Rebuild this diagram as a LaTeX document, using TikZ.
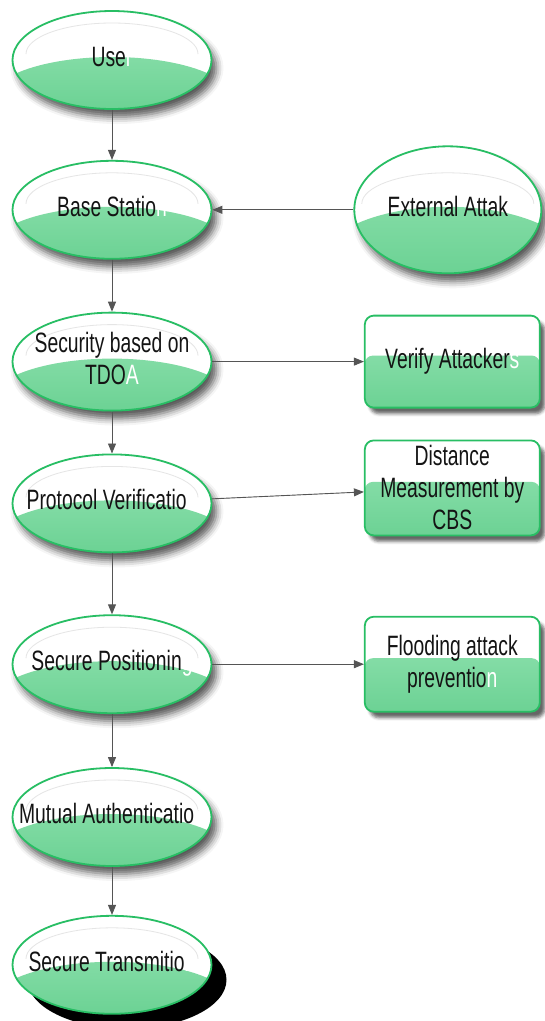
\documentclass[tikz,border=0pt]{standalone}
\usepackage{fontspec}
\usepackage{xcolor}
\usepackage{tikz}
\usetikzlibrary{shapes.geometric, arrows.meta, positioning, shadows, shadows.blur}

\newfontfamily\flowfont{Liberation Sans}[FakeStretch=0.69]

\definecolor{edgegreen}{RGB}{40,190,100}
\definecolor{lowgreen}{RGB}{108,210,148}
\definecolor{lowgreenlight}{RGB}{150,228,180}
\definecolor{inkgray}{RGB}{85,85,85}
\definecolor{textblack}{RGB}{20,20,20}

% last letters of some labels are printed white
\newcommand\hid[1]{\textcolor{white}{#1}}
% zero-width label so the ellipse keeps its own size
\newcommand\centred[1]{\makebox[0pt]{\begin{tabular}{@{}c@{}}#1\end{tabular}}}

\begin{document}
\begin{tikzpicture}[
    x=1pt, y=1pt,
    font=\flowfont\fontsize{28}{32}\selectfont,
    % Styles
    plainstage/.style={ellipse, draw=edgegreen, line width=1.8pt, fill=white, text=textblack,
        minimum width=199pt, minimum height=98pt, inner sep=0pt,
        path picture={
            \shade[top color=lowgreenlight, bottom color=lowgreen]
                ([yshift=-15pt]path picture bounding box.west)
                .. controls +(50pt,24pt) and +(-50pt,24pt) .. ([yshift=-15pt]path picture bounding box.east)
                -- (path picture bounding box.south east) -- (path picture bounding box.south west) -- cycle;
            \draw[black!10, line width=0.8pt]
                ([shift={(-86pt,6pt)}]path picture bounding box.center)
                arc[start angle=180, end angle=0, x radius=86pt, y radius=31pt];
        }},
    stage/.style={plainstage, blur shadow={shadow xshift=5pt, shadow yshift=-8pt, shadow blur radius=7pt, shadow opacity=65}},
    laststage/.style={plainstage, drop shadow={fill=black, opacity=1, shadow xshift=15pt, shadow yshift=-15pt}},
    threat/.style={stage, minimum width=187pt, minimum height=127pt},
    check/.style={rectangle, rounded corners=9pt, draw=edgegreen, line width=1.8pt, fill=white, text=textblack,
        minimum width=175pt, minimum height=95pt, inner sep=0pt, align=center,
        blur shadow={shadow xshift=5pt, shadow yshift=-6pt, shadow blur radius=3pt, shadow opacity=60},
        path picture={
            \shade[top color=lowgreenlight, bottom color=lowgreen, rounded corners=8pt]
                ([yshift=6pt]path picture bounding box.west) -- ([yshift=6pt]path picture bounding box.east)
                -- (path picture bounding box.south east) -- (path picture bounding box.south west) -- cycle;
        }},
    arrow/.style={-{Triangle[length=10pt, width=8pt]}, line width=0.9pt, draw=inkgray, fill=inkgray}
]

\useasboundingbox (0,0) rectangle (545,-1021);

% ------------------- MAIN CHAIN -------------------
\node[stage] (user) at (112,-60) {\centred{Use\hid{r}}};
\node[stage, below=50pt of user] (base) {\centred{Base Statio\hid{n}}};
\node[stage, below=52pt of base] (security) {\centred{Security based on\\TDO\hid{A}}};
\node[stage, below=42pt of security] (protocol) {\centred{Protocol Verificatio\hid{n}}};
\node[stage, below=61pt of protocol] (positioning) {\centred{Secure Positionin\hid{g}}};
\node[stage, below=53pt of positioning] (mutual) {\centred{Mutual Authenticatio\hid{n}}};
\node[laststage, below=48pt of mutual] (transmit) {\centred{Secure Transmitio\hid{n}}};

% ------------------- SIDE NODES -------------------
\node[threat, right=141pt of base] (external) {\centred{External Attak}};
\node[check, minimum height=92pt, right=151.5pt of security] (verify) {Verify Attacker\hid{s}};
\node[check, below=31pt of verify] (distance) {Distance\\Measurement by\\CBS};
\node[check, right=151.5pt of positioning] (flooding) {Flooding attack\\preventio\hid{n}};

% ------------------- CONNECTORS -------------------
\draw[arrow] (user) -- (base);
\draw[arrow] (base) -- (security);
\draw[arrow] (security) -- (protocol);
\draw[arrow] (protocol) -- (positioning);
\draw[arrow] (positioning) -- (mutual);
\draw[arrow] (mutual) -- (transmit);

\draw[arrow] (external) -- (base);
\draw[arrow] (security.east) -- (security.east -| verify.west);
\draw[arrow] (protocol) -- (distance);
\draw[arrow] (positioning) -- (flooding);

\end{tikzpicture}
\end{document}
